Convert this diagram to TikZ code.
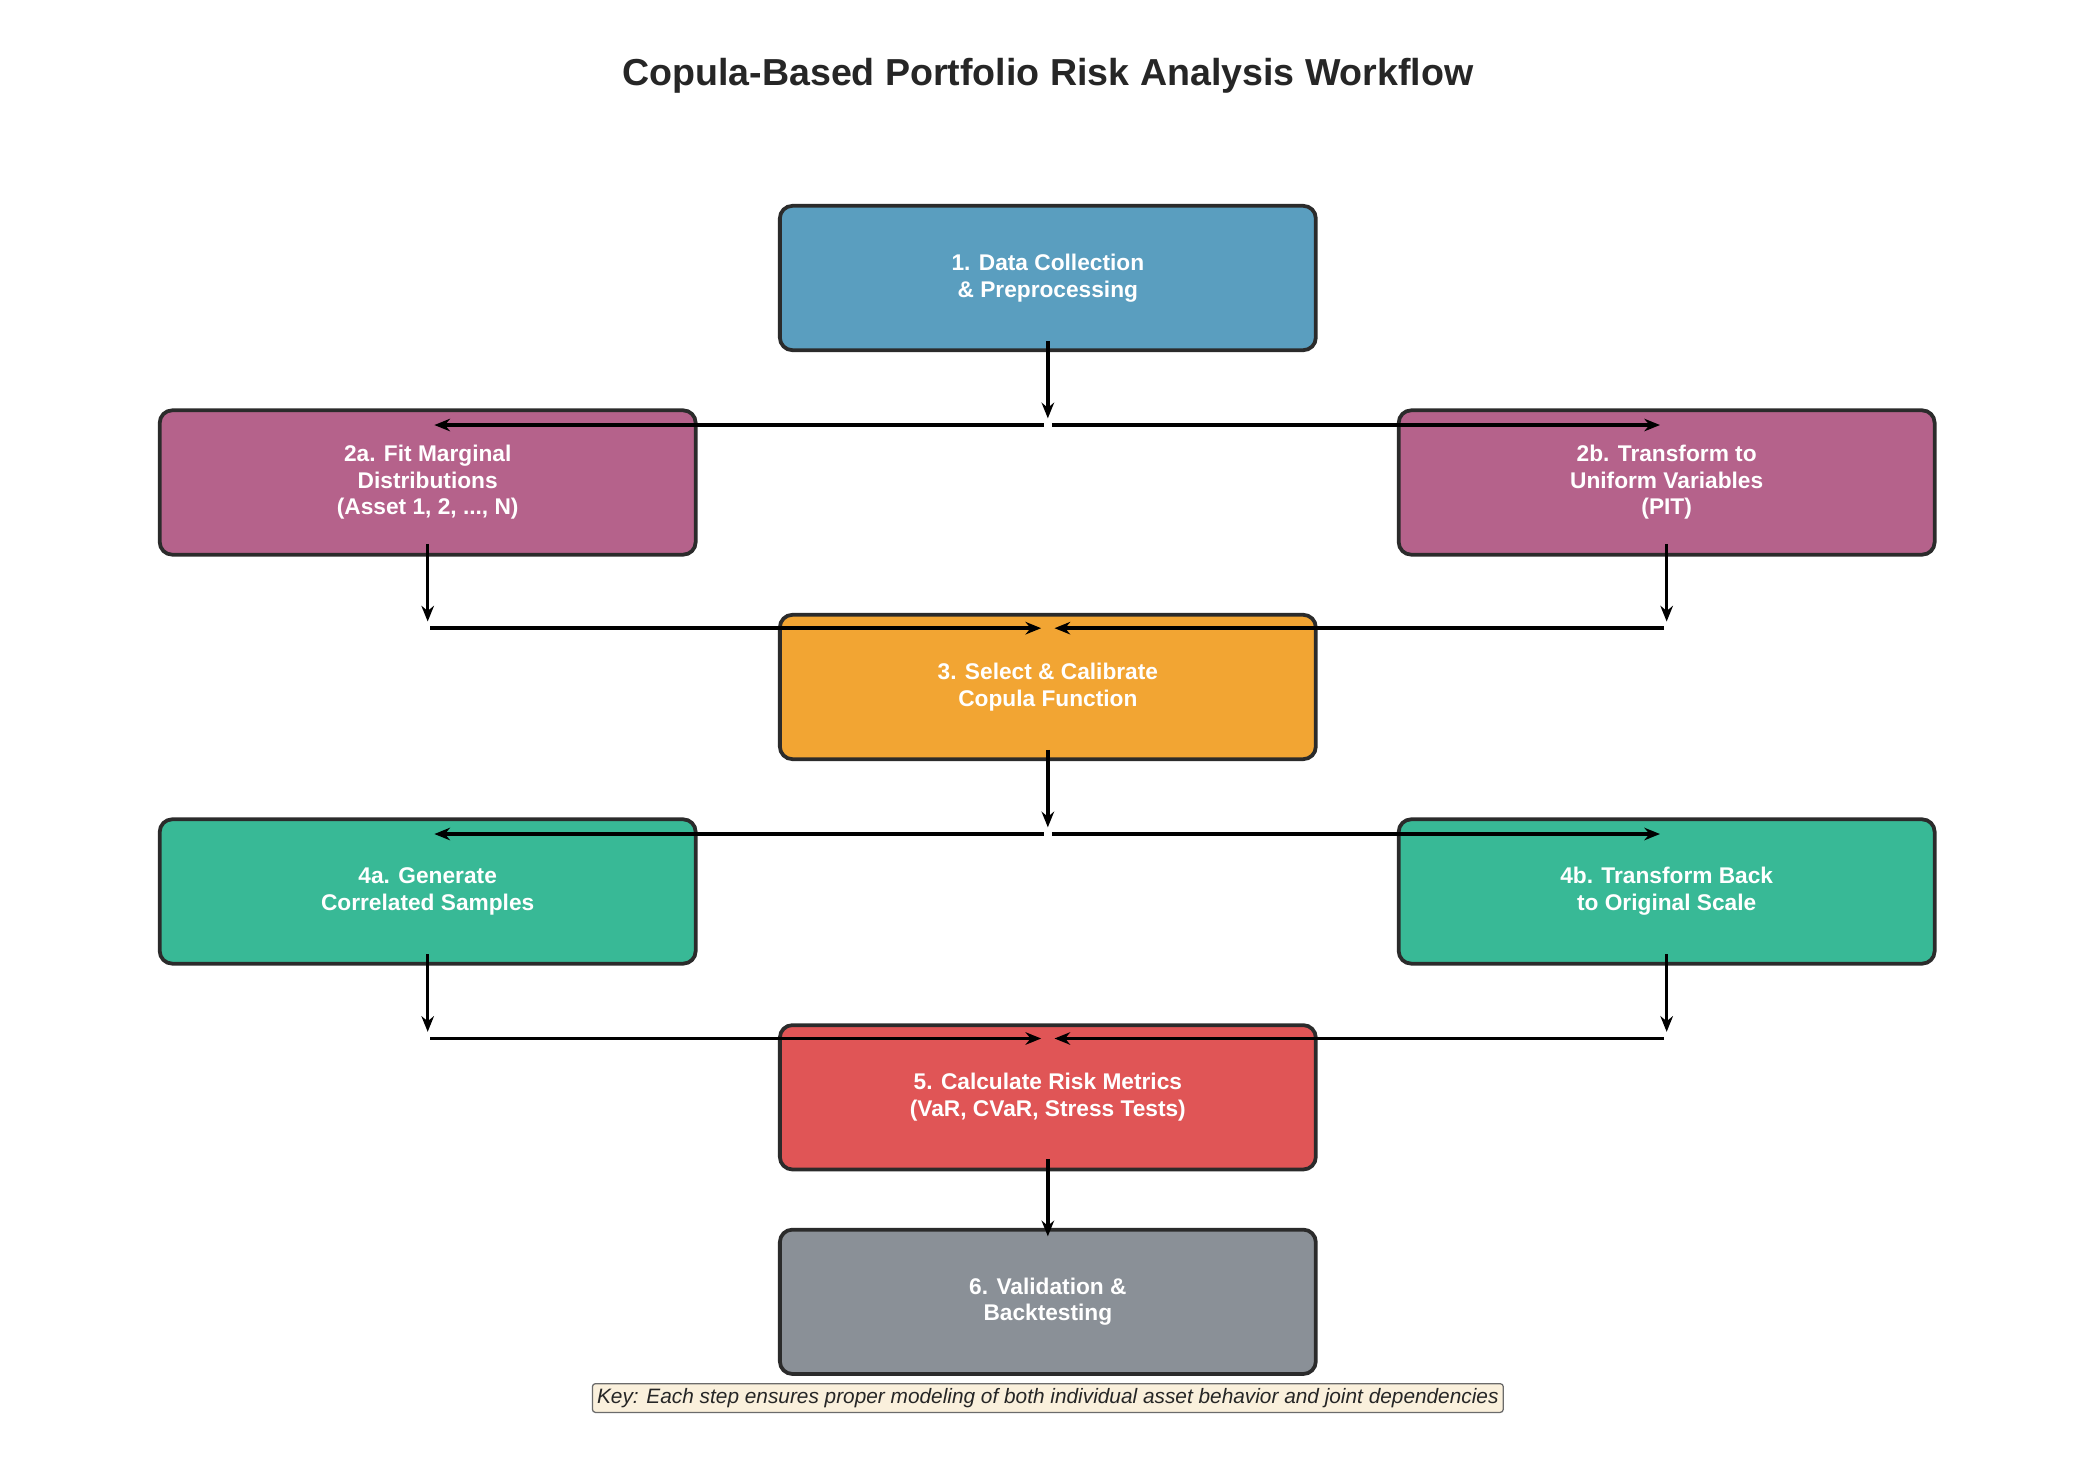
\documentclass[tikz,border=0pt]{standalone}
\usepackage{fontspec}
\setmainfont{Liberation Sans}
\usetikzlibrary{arrows.meta}
\definecolor{cblue}{HTML}{5A9EBF}
\definecolor{cpurple}{HTML}{B5628B}
\definecolor{corange}{HTML}{F2A533}
\definecolor{cgreen}{HTML}{38B996}
\definecolor{cred}{HTML}{E05556}
\definecolor{cgray}{HTML}{8A9097}
\definecolor{cedge}{HTML}{2B2B2B}
\definecolor{ckey}{HTML}{FAF0DC}
\begin{document}
\begin{tikzpicture}[x=0.03cm,y=-0.03cm,
  box/.style={draw=cedge,line width=2.4pt,rounded corners=8pt,minimum width=401*0.03cm,minimum height=108*0.03cm,text=white,font=\bfseries\fontsize{14.5}{17}\selectfont,align=center},
  arr/.style={line width=2.2pt,-{Stealth[length=10pt,width=8pt]}},
  ln/.style={line width=2.2pt}]
\useasboundingbox (0,0) rectangle (1560,1110);
\node[font=\bfseries\fontsize{24}{28}\selectfont,text=black!85] (title) at (784,57) {Copula-Based Portfolio Risk Analysis Workflow};
\node[box,fill=cblue] (b1) at (784,208) {1. Data Collection\\\& Preprocessing};
\node[box,fill=cpurple] (b2a) at (320,361) {2a. Fit Marginal\\Distributions\\(Asset 1, 2, ..., N)};
\node[box,fill=cpurple] (b2b) at (1247,361) {2b. Transform to\\Uniform Variables\\(PIT)};
\node[box,fill=corange] (b3) at (784,514) {3. Select \& Calibrate\\Copula Function};
\node[box,fill=cgreen] (b4a) at (320,667) {4a. Generate\\Correlated Samples};
\node[box,fill=cgreen] (b4b) at (1247,667) {4b. Transform Back\\to Original Scale};
\node[box,fill=cred] (b5) at (784,821) {5. Calculate Risk Metrics\\(VaR, CVaR, Stress Tests)};
\node[box,fill=cgray] (b6) at (784,974) {6. Validation \&\\Backtesting};
\node[draw=cedge!70,fill=ckey,rounded corners=2pt,line width=0.8pt,inner sep=3pt,font=\itshape\fontsize{13.3}{15}\selectfont,text=black!85] (key) at (784,1046) {Key: Each step ensures proper modeling of both individual asset behavior and joint dependencies};
\coordinate (s1) at (784,255); \coordinate (e1) at (784,313);
\coordinate (hl1) at (781,318); \coordinate (hr1) at (787,318);
\coordinate (tl1) at (325,318); \coordinate (tr1) at (1242,318);
\coordinate (s2a) at (320,407); \coordinate (e2a) at (320,465);
\coordinate (s2b) at (1247,407); \coordinate (e2b) at (1247,465);
\coordinate (l2a) at (322,470); \coordinate (m2a) at (779,470);
\coordinate (l2b) at (1245,470); \coordinate (m2b) at (789,470);
\coordinate (s3) at (784,561); \coordinate (e3) at (784,619);
\coordinate (hl3) at (781,624); \coordinate (hr3) at (787,624);
\coordinate (tl3) at (325,624); \coordinate (tr3) at (1242,624);
\coordinate (s4a) at (320,714); \coordinate (e4a) at (320,772);
\coordinate (s4b) at (1247,714); \coordinate (e4b) at (1247,772);
\coordinate (l4a) at (322,777); \coordinate (m4a) at (779,777);
\coordinate (l4b) at (1245,777); \coordinate (m4b) at (789,777);
\coordinate (s5) at (784,867); \coordinate (e5) at (784,925);
\draw[arr] (s1) -- (e1);
\draw[arr] (hl1) -- (tl1);
\draw[arr] (hr1) -- (tr1);
\draw[arr] (s2a) -- (e2a);
\draw[arr] (s2b) -- (e2b);
\draw[arr] (l2a) -- (m2a);
\draw[arr] (l2b) -- (m2b);
\draw[arr] (s3) -- (e3);
\draw[arr] (hl3) -- (tl3);
\draw[arr] (hr3) -- (tr3);
\draw[arr] (s4a) -- (e4a);
\draw[arr] (s4b) -- (e4b);
\draw[arr] (l4a) -- (m4a);
\draw[arr] (l4b) -- (m4b);
\draw[arr] (s5) -- (e5);
\end{tikzpicture}
\end{document}
